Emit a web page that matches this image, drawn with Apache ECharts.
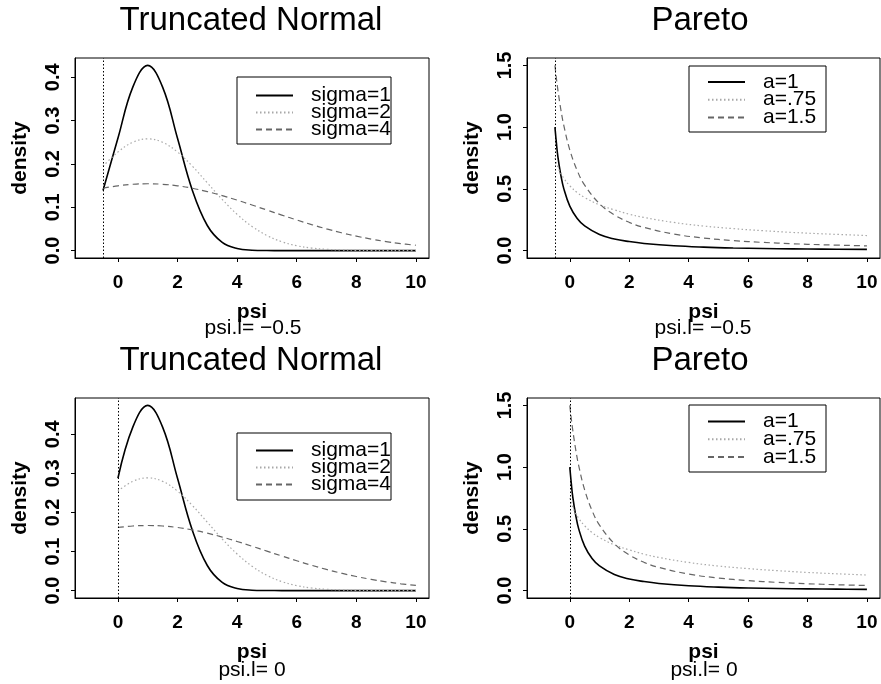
<!DOCTYPE html>
<html>
<head>
<meta charset="utf-8">
<script src="https://cdn.jsdelivr.net/npm/echarts@6/dist/echarts.min.js"></script>
<style>
  html, body { margin: 0; padding: 0; background: #fff; }
  #chart { width: 881px; height: 684px; }
</style>
</head>
<body>
<div id="chart"></div>
<script>
// truncation points for the two rows
var psiLevels = [-0.5, 0];

// truncated normal, psi.l = -0.5
var xTN1 = [-0.5, 0, 0.5, 1, 1.5, 2, 2.5, 3, 3.5, 4, 4.5, 5, 5.5, 6, 6.5, 7, 7.5, 8, 8.5, 9, 9.5, 10];
var sig1TN1 = [0.1388, 0.2593, 0.3773, 0.4275, 0.3773, 0.2593, 0.1388, 0.0579, 0.0188, 0.0048, 0.0009, 0.0001, 0, 0, 0, 0, 0, 0, 0, 0, 0, 0];
var sig2TN1 = [0.1947, 0.2276, 0.2500, 0.2579, 0.2500, 0.2276, 0.1947, 0.1564, 0.1181, 0.0837, 0.0558, 0.0349, 0.0205, 0.0113, 0.0059, 0.0029, 0.0013, 0.0006, 0.0002, 0.0001, 0, 0];
var sig4TN1 = [0.1439, 0.1496, 0.1531, 0.1543, 0.1531, 0.1496, 0.1439, 0.1362, 0.1270, 0.1165, 0.1053, 0.0936, 0.0820, 0.0707, 0.0600, 0.0501, 0.0412, 0.0334, 0.0266, 0.0209, 0.0161, 0.0123];

// truncated normal, psi.l = 0
var xTN0 = [0, 0.5, 1, 1.5, 2, 2.5, 3, 3.5, 4, 4.5, 5, 5.5, 6, 6.5, 7, 7.5, 8, 8.5, 9, 9.5, 10];
var sig1TN0 = [0.2876, 0.4185, 0.4742, 0.4185, 0.2876, 0.1539, 0.0642, 0.0208, 0.0053, 0.0010, 0.0002, 0, 0, 0, 0, 0, 0, 0, 0, 0, 0];
var sig2TN0 = [0.2546, 0.2796, 0.2885, 0.2796, 0.2546, 0.2178, 0.1750, 0.1321, 0.0937, 0.0624, 0.0390, 0.0230, 0.0127, 0.0066, 0.0032, 0.0015, 0.0006, 0.0003, 0.0001, 0, 0];
var sig4TN0 = [0.1615, 0.1653, 0.1666, 0.1653, 0.1615, 0.1553, 0.1470, 0.1370, 0.1257, 0.1136, 0.1010, 0.0885, 0.0763, 0.0647, 0.0541, 0.0445, 0.0360, 0.0287, 0.0225, 0.0174, 0.0133];

// pareto, psi.l = -0.5
var xPa1 = [-0.5, -0.45, -0.4, -0.3, -0.2, 0, 0.25, 0.5, 1, 1.5, 2, 2.5, 3.5, 4.5, 5.5, 6.5, 7.5, 8.5, 10];
var a1Pa1 = [1.0, 0.87, 0.76, 0.61, 0.50, 0.36, 0.26, 0.20, 0.13, 0.094, 0.073, 0.058, 0.039, 0.028, 0.021, 0.017, 0.014, 0.012, 0.0095];
var a075Pa1 = [0.75, 0.71, 0.675, 0.625, 0.585, 0.525, 0.47, 0.43, 0.37, 0.33, 0.295, 0.268, 0.228, 0.199, 0.178, 0.161, 0.147, 0.136, 0.122];
var a15Pa1 = [1.5, 1.394, 1.300, 1.141, 1.012, 0.816, 0.648, 0.530, 0.380, 0.289, 0.229, 0.1875, 0.134, 0.102, 0.081, 0.0663, 0.0556, 0.0474, 0.0384];

// pareto, psi.l = 0
var xPa0 = [0, 0.05, 0.1, 0.2, 0.3, 0.5, 0.75, 1, 1.5, 2, 2.5, 3, 4, 5, 6, 7, 8, 9, 10];
var a1Pa0 = [1.0, 0.87, 0.76, 0.61, 0.50, 0.36, 0.26, 0.20, 0.13, 0.094, 0.073, 0.058, 0.039, 0.028, 0.021, 0.017, 0.014, 0.012, 0.010];
var a075Pa0 = [0.75, 0.71, 0.675, 0.625, 0.585, 0.525, 0.47, 0.43, 0.37, 0.33, 0.295, 0.268, 0.228, 0.199, 0.178, 0.161, 0.147, 0.136, 0.126];
var a15Pa0 = [1.5, 1.394, 1.300, 1.141, 1.012, 0.816, 0.648, 0.530, 0.380, 0.289, 0.229, 0.1875, 0.134, 0.102, 0.081, 0.0663, 0.0556, 0.0474, 0.0411];

// tick labels
var xTicks = [0, 2, 4, 6, 8, 10];
var yTicksTN = [0, 0.1, 0.2, 0.3, 0.4];
var yTicksPa = [0, 0.5, 1, 1.5];

var sigmaNames = ['sigma=1', 'sigma=2', 'sigma=4'];
var aNames = ['a=1', 'a=.75', 'a=1.5'];

var FONT = '"Liberation Sans", Arial, Helvetica, sans-serif';

function pts(xs, ys) {
    return xs.map(function (x, i) { return [x, ys[i]]; });
}

var styles = [
    { color: '#000', width: 1.6, type: 'solid' },
    { color: '#a8a8a8', width: 1.2, type: [1.5, 2.5] },
    { color: '#666', width: 1.2, type: [6, 4] }
];

var grids = [
    { left: 75, top: 58, width: 354, height: 200 },
    { left: 527, top: 58, width: 353, height: 200 },
    { left: 75, top: 398, width: 354, height: 200 },
    { left: 527, top: 398, width: 353, height: 200 }
];

function xAx(gi) {
    return {
        type: 'value', gridIndex: gi, min: -1.44, max: 10.44,
        name: 'psi', nameLocation: 'middle', nameGap: 44,
        nameTextStyle: { color: '#000', fontSize: 21, fontWeight: 'bold', fontFamily: FONT },
        axisLine: { show: true, onZero: false, lineStyle: { color: '#000', width: 1 } },
        axisTick: { show: true, length: 4, customValues: xTicks, lineStyle: { color: '#000' } },
        axisLabel: { customValues: xTicks, margin: 15, color: '#000', fontSize: 19, fontWeight: 'bold', fontFamily: FONT },
        splitLine: { show: false }
    };
}

function yAx(gi, min, max, ticks) {
    return {
        type: 'value', gridIndex: gi, min: min, max: max,
        name: 'density', nameLocation: 'middle', nameGap: 44,
        nameTextStyle: { color: '#000', fontSize: 21, fontWeight: 'bold', fontFamily: FONT },
        axisLine: { show: true, onZero: false, lineStyle: { color: '#000', width: 1 } },
        axisTick: { show: true, length: 4, customValues: ticks, lineStyle: { color: '#000' } },
        axisLabel: {
            customValues: ticks, rotate: 90, margin: 12, color: '#000',
            fontSize: 20, fontWeight: 'bold', fontFamily: FONT,
            formatter: function (v) { return v.toFixed(1); }
        },
        splitLine: { show: false }
    };
}

function line(name, gi, xs, ys, k, psiL) {
    var s = {
        name: name, type: 'line', xAxisIndex: gi, yAxisIndex: gi,
        data: pts(xs, ys), symbol: 'none', smooth: 0.4,
        lineStyle: styles[k], itemStyle: { color: styles[k].color },
        z: 3
    };
    if (psiL !== undefined) {
        s.markLine = {
            silent: true, symbol: ['none', 'none'], label: { show: false },
            lineStyle: { color: '#000', type: [1.5, 2], width: 1 },
            data: [{ xAxis: psiL }]
        };
    }
    return s;
}

function title(text, x, y, size) {
    return {
        text: text, left: x, top: y, textAlign: 'center',
        textStyle: { color: '#000', fontSize: size, fontWeight: 'normal', fontFamily: FONT }
    };
}

function legend(names, x, y, gap) {
    return {
        data: names, orient: 'vertical', left: x, top: y,
        itemWidth: 37, itemHeight: 14, itemGap: gap, padding: 0,
        selectedMode: false,
        itemStyle: { opacity: 0 },
        textStyle: { color: '#000', fontSize: 21, fontFamily: FONT, padding: [0, 0, 0, 13] }
    };
}

function box(x, y, w, h) {
    return { type: 'rect', shape: { x: x, y: y, width: w, height: h }, style: { fill: null, stroke: '#000', lineWidth: 1 }, z: 10 };
}

var chart = echarts.init(document.getElementById('chart'), null, { renderer: 'canvas' });

chart.setOption({
    backgroundColor: '#fff',
    animation: false,
    title: [
        title('Truncated Normal', 246, -1, 33),
        title('Pareto', 695, -1, 33),
        title('Truncated Normal', 246, 339, 33),
        title('Pareto', 695, 339, 33),
        title('psi.l= \u22120.5', 248, 313, 21),
        title('psi.l= \u22120.5', 698, 313, 21),
        title('psi.l= 0', 247, 655, 21),
        title('psi.l= 0', 699, 655, 21)
    ],
    grid: grids.map(function (g) {
        return { left: g.left, top: g.top, width: g.width, height: g.height, show: true, borderColor: '#000', borderWidth: 1, backgroundColor: 'transparent' };
    }),
    xAxis: [xAx(0), xAx(1), xAx(2), xAx(3)],
    yAxis: [
        yAx(0, -0.0171, 0.4446, yTicksTN),
        yAx(1, -0.06, 1.56, yTicksPa),
        yAx(2, -0.019, 0.493, yTicksTN),
        yAx(3, -0.06, 1.56, yTicksPa)
    ],
    legend: [
        legend(sigmaNames, 255, 85, -4),
        legend(aNames, 707, 71.5, -3.3),
        legend(sigmaNames, 255, 440, -4),
        legend(aNames, 707, 411, -3.3)
    ],
    graphic: [
        box(237, 77, 154, 67),
        box(689, 66, 137, 66),
        box(237, 433, 154, 67),
        box(689, 405, 137, 67)
    ],
    series: [
        line(sigmaNames[0], 0, xTN1, sig1TN1, 0, psiLevels[0]),
        line(sigmaNames[1], 0, xTN1, sig2TN1, 1),
        line(sigmaNames[2], 0, xTN1, sig4TN1, 2),
        line(aNames[0], 1, xPa1, a1Pa1, 0, psiLevels[0]),
        line(aNames[1], 1, xPa1, a075Pa1, 1),
        line(aNames[2], 1, xPa1, a15Pa1, 2),
        line(sigmaNames[0], 2, xTN0, sig1TN0, 0, psiLevels[1]),
        line(sigmaNames[1], 2, xTN0, sig2TN0, 1),
        line(sigmaNames[2], 2, xTN0, sig4TN0, 2),
        line(aNames[0], 3, xPa0, a1Pa0, 0, psiLevels[1]),
        line(aNames[1], 3, xPa0, a075Pa0, 1),
        line(aNames[2], 3, xPa0, a15Pa0, 2)
    ]
});
</script>
</body>
</html>
